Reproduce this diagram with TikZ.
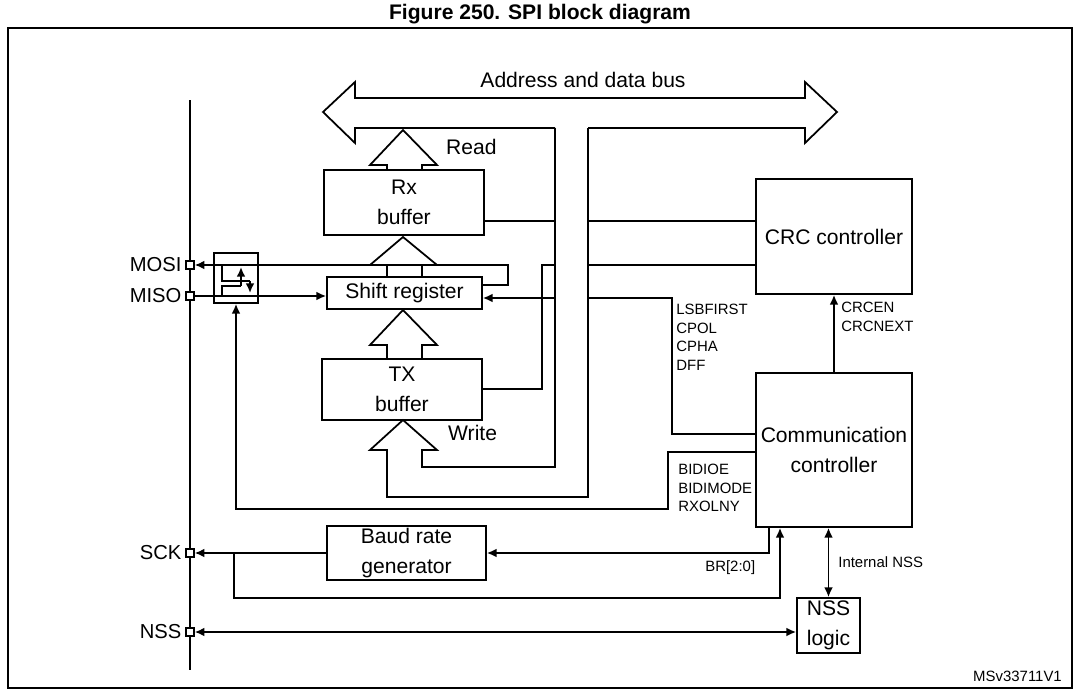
\documentclass[tikz,border=0pt]{standalone}
\usepackage{fontspec}
\setmainfont{Liberation Sans}
\usetikzlibrary{arrows.meta,positioning}

\tikzset{
  blk/.style={draw, line width=1pt, align=center, inner sep=0pt,
    font=\fontsize{12}{17}\selectfont},
  pin/.style={draw, line width=0.8pt, fill=white, minimum size=8*0.02cm, inner sep=0pt,
    label={[font=\fontsize{11.5}{14}\selectfont, inner sep=2pt]left:#1}},
  wire/.style={line width=1pt},
  tip/.style={wire, -{Latex[length=5.5pt,width=5pt]}},
  tips/.style={wire, {Latex[length=5.5pt,width=5pt]}-{Latex[length=5.5pt,width=5pt]}},
  reg/.style={font=\fontsize{8.5}{10.5}\selectfont, align=left, inner sep=0pt, anchor=north west}
}
% hollow arrow: tip y, wing y, stem end y
\newcommand\hollowarrow[3]{%
  \draw[wire] (387,#3) -- (387,#2) -- (370,#2) -- (403,#1) -- (437,#2) -- (422,#2) -- (422,#3);}

\begin{document}
\begin{tikzpicture}[x=0.02cm, y=-0.02cm]
  \useasboundingbox (0,0) rectangle (1080,690);
  \node[font=\bfseries\fontsize{12}{14}\selectfont] at (540,14) {Figure 250. SPI block diagram};
  \draw[line width=0.8pt] (8,28) rectangle (1072,688);
  \node[font=\fontsize{8.5}{10}\selectfont, anchor=east] at (1068,676) {MSv33711V1};

  % address and data bus
  \coordinate (dL) at (555,128);
  \coordinate (dR) at (588,128);
  \draw[wire] (dL) -- (355,128) -- (355,143) -- (323,112) -- (355,82) -- (355,98) -- (805,98)
    -- (805,82) -- (837,112) -- (805,143) -- (805,128) -- (dR);
  \node[font=\fontsize{12}{14}\selectfont] at (583,80) {Address and data bus};

  % blocks
  \node[blk, minimum width=160*0.02cm, minimum height=65*0.02cm] (rx) at (404,202.5) {Rx\\buffer};
  \node[blk, minimum width=155*0.02cm, minimum height=32*0.02cm] (shift) at (404.5,293) {Shift register};
  \node[blk, minimum width=160*0.02cm, minimum height=61*0.02cm] (tx) at (402,389.5) {TX\\buffer};
  \node[blk, minimum width=156*0.02cm, minimum height=115*0.02cm] (crc) at (834,236.5) {CRC controller};
  \node[blk, minimum width=156*0.02cm, minimum height=154*0.02cm] (comm) at (834,450) {Communication\\controller};
  \node[blk, minimum width=159*0.02cm, minimum height=54*0.02cm] (baud) at (406.5,553) {Baud rate\\generator};
  \node[blk, minimum width=63*0.02cm, minimum height=55*0.02cm] (nss) at (828.5,625.5) {NSS\\logic};
  \node[blk, minimum width=44*0.02cm, minimum height=50*0.02cm] (sw) at (236,278) {};

  % pins
  \draw[wire] (190,100) -- (190,670);
  \node[pin=MOSI] (mosi) at (190,265) {};
  \node[pin=MISO] (miso) at (190,296) {};
  \node[pin=SCK] (sck) at (190,553) {};
  \node[pin=NSS] (nssp) at (190,632) {};

  % hollow arrows
  \hollowarrow{130}{165}{170}
  \node[font=\fontsize{12}{14}\selectfont, anchor=west] at (440,147) {Read};
  \hollowarrow{237}{265}{277}
  \hollowarrow{310}{345}{359}
  \draw[wire] (dL) -- (555,467) -- (422,467) -- (422,450) -- (437,450) -- (403,420)
    -- (370,450) -- (387,450) -- (387,497) -- (588,497) -- (dR);
  \node[font=\fontsize{12}{14}\selectfont, anchor=west] at (442,433) {Write};

  % data paths
  \draw[wire] (rx.east |- 0,221) -- (dL |- 0,221);
  \draw[wire] (dR |- 0,221) -- (crc.west |- 0,221);
  \draw[wire] (dR |- 0,265) -- (crc.west |- 0,265);
  \draw[wire] (tx.east |- 0,389) -- (542,389) -- (542,265) -- (dL |- 0,265);
  \draw[tip] (dL |- 0,298) -- (shift.east |- 0,298);
  \draw[wire] (dR |- 0,298) -- (672,298) -- (672,434) -- (comm.west |- 0,434);
  \node[reg] at (676,304) {LSBFIRST\\CPOL\\CPHA\\DFF};
  \draw[tip] (shift.east |- 0,285) -- (508,285) -- (508,265) -- (mosi.east);
  \draw[tip] (miso.east) -- (shift.west |- miso);
  \draw[tip] (comm.west |- 0,452) -- (668,452) -- (668,509) -- (sw.south |- 0,509) -- (sw.south);
  \node[reg] at (678,464) {BIDIOE\\BIDIMODE\\RXOLNY};
  \draw[tip] (comm.north) -- (crc.south);
  \node[reg] at (841,302) {CRCEN\\CRCNEXT};

  % switch
  \draw[wire] (222,265) -- (222,281) -- (250,281);
  \draw[tip] (250,281) -- (250,293);
  \draw[wire] (222,296) -- (222,286) -- (241,286);
  \draw[tip] (241,286) -- (241,267);

  % clock and NSS
  \draw[tip] (comm.south -| 769,0) -- (769,553) -- (baud.east);
  \node[reg] at (705,560) {BR[2:0]};
  \draw[tip] (baud.west) -- (sck.east);
  \draw[tip] (234,553) -- (234,598) -- (780,598) -- (comm.south -| 780,0);
  \draw[tips] (comm.south -| nss.north) -- (nss.north);
  \node[reg] at (838,556) {Internal NSS};
  \draw[tips] (nssp.east) -- (nss.west |- nssp);
\end{tikzpicture}
\end{document}
